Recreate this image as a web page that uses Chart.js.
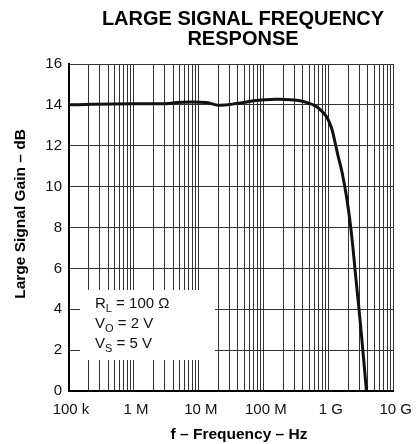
<!DOCTYPE html>
<html lang="en">
  <head>
    <meta charset="utf-8" />
    <title>Large Signal Frequency Response</title>
    <script src="https://cdn.jsdelivr.net/npm/chart.js/dist/chart.umd.min.js"></script>
    <style>
      * {
        margin: 0;
        padding: 0;
      }
      body {
        background: #fff;
      }
    </style>
  </head>
  <body>
    <canvas id="myChart" width="420" height="444"></canvas>

    <script>
      const FONT = '"Liberation Sans", Arial, sans-serif';

      // curve
      const freqHz = [1e5, 2.3e5, 1e6, 3.5e6, 4.5e6, 1.3e7, 2e7, 4.1e7, 7e7, 1e8, 1.7e8, 3.4e8,
        4.84e8, 6.2e8, 7.66e8, 9.1e8, 1.01e9, 1.13e9, 1.25e9, 1.39e9, 1.6e9, 1.91e9, 2.2e9,
        2.63e9, 3.13e9, 3.8e9];
      const gainDb = [14.0, 14.03, 14.05, 14.07, 14.12, 14.12, 13.98, 14.08, 14.2, 14.25, 14.27, 14.21,
        14.09, 13.95, 13.72, 13.45, 13.18, 12.75, 12.15, 11.5, 10.7, 9.35, 7.88,
        5.43, 2.99, 0];

      // axes
      const decades = [1e5, 1e6, 1e7, 1e8, 1e9, 1e10];
      const decadeLabels = ["100 k", "1 M", "10 M", "100 M", "1 G", "10 G"];
      const gainTicks = [0, 2, 4, 6, 8, 10, 12, 14, 16];

      const conditions = [
        ["R", "L", " = 100 Ω"],
        ["V", "O", " = 2 V"],
        ["V", "S", " = 5 V"],
      ];

      // 1..9 in every decade for the grid
      const gridFreqs = [];
      decades.slice(0, -1).forEach((d) => {
        for (let m = 1; m < 10; m++) gridFreqs.push(d * m);
      });
      gridFreqs.push(decades[decades.length - 1]);

      // white box with the test conditions, hides the grid under it
      const conditionBox = {
        id: "conditionBox",
        beforeDatasetsDraw(chart) {
          const { ctx, chartArea } = chart;
          const x0 = chartArea.left + 11;
          const y0 = chartArea.top + 226;
          ctx.save();
          ctx.fillStyle = "#fff";
          ctx.fillRect(x0, y0, 135, 70);
          ctx.fillStyle = "#111";
          ctx.textBaseline = "alphabetic";
          conditions.forEach((c, i) => {
            let x = x0 + 15;
            const y = y0 + 18 + i * 20;
            ctx.font = `15px ${FONT}`;
            ctx.fillText(c[0], x, y);
            x += ctx.measureText(c[0]).width;
            ctx.font = `11px ${FONT}`;
            ctx.fillText(c[1], x, y + 4);
            x += ctx.measureText(c[1]).width;
            ctx.font = `15px ${FONT}`;
            ctx.fillText(c[2], x, y);
          });
          ctx.restore();
        },
      };

      const titles = {
        id: "titles",
        afterDraw(chart) {
          const { ctx } = chart;
          ctx.save();
          ctx.fillStyle = "#000";
          ctx.textAlign = "center";
          ctx.textBaseline = "middle";
          ctx.font = `bold 20px ${FONT}`;
          ctx.fillText("LARGE SIGNAL FREQUENCY", 243, 19);
          ctx.fillText("RESPONSE", 243, 39);

          ctx.font = `bold 15.5px ${FONT}`;
          ctx.fillText("f – Frequency – Hz", 239, 435);

          ctx.translate(21, 214);
          ctx.rotate(-Math.PI / 2);
          ctx.fillText("Large Signal Gain – dB", 0, 0);
          ctx.restore();
        },
      };

      const config = {
        type: "line",
        data: {
          datasets: [
            {
              data: freqHz.map((f, i) => ({ x: f, y: gainDb[i] })),
              borderColor: "#111",
              borderWidth: 3,
              pointRadius: 0,
              tension: 0.4,
              fill: false,
            },
          ],
        },
        options: {
          responsive: false,
          animation: false,
          devicePixelRatio: 1,
          layout: { padding: { top: 64, right: 24, left: 0, bottom: 0 } },
          plugins: {
            legend: { display: false },
            tooltip: { enabled: false },
          },
          scales: {
            x: {
              type: "logarithmic",
              min: 1e5,
              max: 1e10,
              afterBuildTicks(scale) {
                scale.ticks = gridFreqs.map((v) => ({ value: v }));
              },
              afterFit(scale) {
                scale.height = 53;
              },
              grid: { color: "#333", lineWidth: 1, drawTicks: false },
              border: { color: "#000", width: 2 },
              ticks: {
                autoSkip: false,
                maxRotation: 0,
                padding: 10,
                labelOffset: 2,
                color: "#111",
                font: { family: FONT, size: 15 },
                callback(value) {
                  const i = decades.findIndex((d) => Math.abs(d - value) / d < 1e-6);
                  return i >= 0 ? decadeLabels[i] : "";
                },
              },
            },
            y: {
              min: 0,
              max: 16,
              afterBuildTicks(scale) {
                scale.ticks = gainTicks.map((v) => ({ value: v }));
              },
              afterFit(scale) {
                scale.width = 69;
              },
              grid: { color: "#333", lineWidth: 1, drawTicks: false },
              border: { color: "#000", width: 2 },
              ticks: {
                padding: 7,
                color: "#111",
                font: { family: FONT, size: 15 },
              },
            },
          },
        },
        plugins: [conditionBox, titles],
      };

      const myChart = new Chart(document.getElementById("myChart"), config);
    </script>
  </body>
</html>
